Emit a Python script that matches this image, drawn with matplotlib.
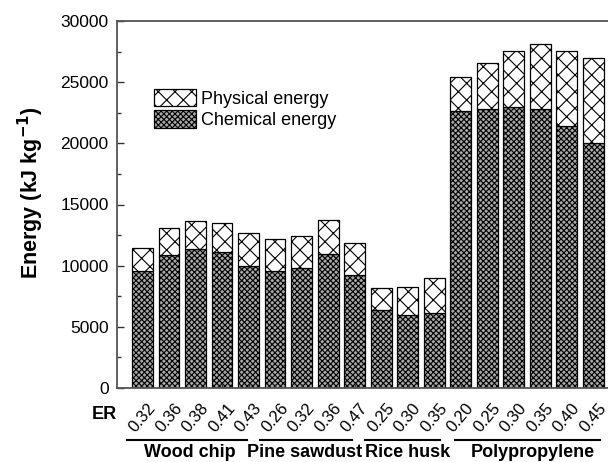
import matplotlib
matplotlib.use("Agg")
import matplotlib.pyplot as plt
import matplotlib.transforms as mtransforms
from matplotlib.patches import Patch
import numpy as np

plt.rcParams['font.family'] = ['Liberation Sans', 'DejaVu Sans']
plt.rcParams['hatch.color'] = 'black'
plt.rcParams['hatch.linewidth'] = 0.8

groups = ["Wood chip", "Pine sawdust", "Rice husk", "Polypropylene"]
er_labels = [
    ["0.32", "0.36", "0.38", "0.41", "0.43"],
    ["0.26", "0.32", "0.36", "0.47"],
    ["0.25", "0.30", "0.35"],
    ["0.20", "0.25", "0.30", "0.35", "0.40", "0.45"],
]
chemical = [9600, 10850, 11350, 11120, 9970,
            9570, 9780, 10930, 9220,
            6370, 5950, 6100,
            22650, 22790, 22970, 22830, 21450, 20020]
total = [11450, 13070, 13680, 13480, 12680,
         12150, 12440, 13770, 11840,
         8170, 8220, 9030,
         25440, 26560, 27520, 28150, 27520, 26950]
physical = [t - c for t, c in zip(total, chemical)]

labels_flat = [l for g in er_labels for l in g]
x = np.arange(len(labels_flat))

# layout constants for the group underlines / labels (in bar-index units)
line_pad_left = [0.58, 0.57, 0.60, 0.21]
line_pad_right = [-0.06, -0.09, 0.23, 0.26]
text_shift = [0.10, -0.04, 0.17, 0.20]

chem_face = '#a8a8a8'

fig = plt.figure(figsize=(6.08, 4.62), dpi=100)
ax = fig.add_axes([117/608, 74/462, 501/608, 367/462])

w = 0.79
ax.bar(x, chemical, w, color=chem_face, edgecolor='black', hatch='xxxxxx', linewidth=0.9)
ax.bar(x, physical, w, bottom=chemical, color='white', edgecolor='black', hatch='xx', linewidth=0.9)

ax.set_xlim(-0.962, 17.94)
ax.set_ylim(0, 30000)
ax.set_yticks(np.arange(0, 30001, 5000))
ax.set_yticks(np.arange(2500, 30000, 5000), minor=True)
ax.tick_params(axis='y', which='major', direction='in', length=5, width=1, labelsize=12.5, pad=6, colors='#333333', labelcolor='black')
ax.tick_params(axis='y', which='minor', direction='in', length=3, width=1, colors='#333333')
ax.set_xticks(x)
ax.set_xticklabels(labels_flat, rotation=50, ha='center', fontsize=12)
offset = mtransforms.ScaledTranslation(-4/100, 0, fig.dpi_scale_trans)
for lab in ax.get_xticklabels():
    lab.set_transform(lab.get_transform() + offset)
ax.tick_params(axis='x', direction='in', length=3, width=1, pad=9, colors='#333333', labelcolor='black')

for s in ['left', 'bottom', 'top', 'right']:
    ax.spines[s].set_color('#555555')
    ax.spines[s].set_linewidth(1.3)

ax.set_ylabel("Energy (kJ kg$^{\\mathbf{-1}}$)", fontsize=15.5, fontweight='bold')
ax.yaxis.set_label_coords(-0.142, 0.533)

ax.text(0.0, -0.072, "ER", transform=ax.transAxes, fontsize=13, fontweight='bold',
        ha='right', va='center')

trans = mtransforms.blended_transform_factory(ax.transData, ax.transAxes)
start = 0
for i, (g, labs) in enumerate(zip(groups, er_labels)):
    n = len(labs)
    x0 = start - line_pad_left[i]
    x1 = start + n - 1 + line_pad_right[i]
    ax.plot([x0, x1], [-0.142, -0.142], transform=trans, color='black', lw=1.5, clip_on=False)
    ax.text((x0 + x1) / 2 + text_shift[i], -0.176, g, transform=trans, ha='center', va='center',
            fontsize=13, fontweight='bold')
    start += n

handles = [Patch(facecolor='white', edgecolor='black', hatch='xx', linewidth=0.9),
           Patch(facecolor=chem_face, edgecolor='black', hatch='xxxxxx', linewidth=0.9)]
ax.legend(handles, ["Physical energy", "Chemical energy"], loc='upper left',
          bbox_to_anchor=(0.074, 0.815), frameon=False, fontsize=13,
          handlelength=2.3, handleheight=1.1, handletextpad=0.3, labelspacing=0.15,
          borderpad=0, borderaxespad=0)

fig.savefig("out.png", dpi=100)
